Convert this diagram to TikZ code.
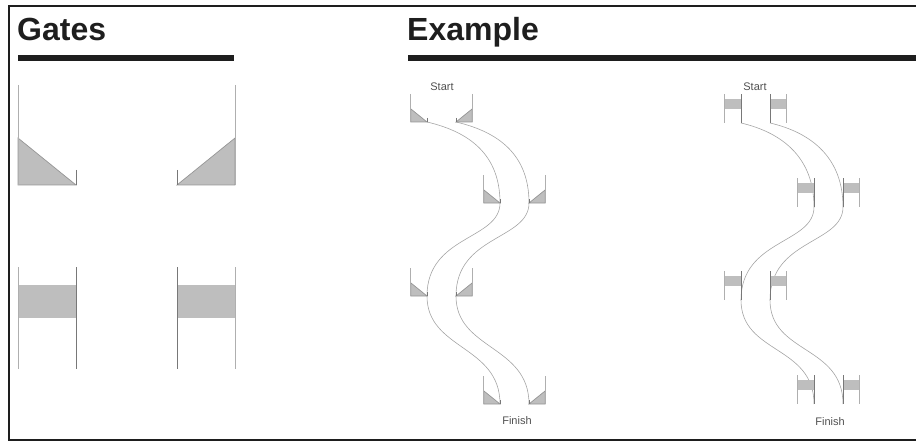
\documentclass[tikz,border=0pt]{standalone}
\usepackage{fontspec}
\setmainfont{Liberation Sans}
\usepackage{tikz}
\definecolor{white}{rgb}{1.0, 1.0, 1.0}
\definecolor{black}{rgb}{0.0, 0.0, 0.0}
\definecolor{ink}{RGB}{30,30,30}
\definecolor{gatefill}{RGB}{190,190,190}
\definecolor{gateedge}{RGB}{150,150,150}
\definecolor{lgrey}{RGB}{175,175,175}
\definecolor{dgrey}{RGB}{120,120,120}
\definecolor{trackgrey}{RGB}{165,165,165}
\definecolor{textgrey}{RGB}{80,80,80}
\pgfdeclarelayer{edgelayer}
\pgfdeclarelayer{nodelayer}
\pgfsetlayers{edgelayer,nodelayer,main}
\tikzstyle{title}=[anchor=base west,inner sep=0pt,text=ink,font=\bfseries\fontsize{32}{36}\selectfont]
\tikzstyle{label}=[inner sep=0pt,text=textgrey,font=\fontsize{11}{13}\selectfont]
\tikzstyle{rule}=[ink,line width=5.5pt]
\tikzstyle{frame}=[ink,line width=2.2pt]
\tikzstyle{gateshade}=[fill=gatefill,draw=gateedge,line width=0.7pt]
\tikzstyle{gateline}=[lgrey,line width=0.8pt]
\tikzstyle{gatedark}=[dgrey,line width=0.8pt]
\tikzstyle{track}=[trackgrey,line width=0.6pt]
% gate with a sloped flap: position, side (1 or -1), size
\newcommand{\trigate}[3]{%
  \begin{scope}[shift={(#1)},xscale=#2*#3,yscale=#3]
    \filldraw[style=gateshade] (-58,-47) -- (-58,0) -- (0,0) -- cycle;
    \draw[style=gateline] (-58,-100) -- (-58,0);
    \draw[style=gatedark] (0,-15) -- (0,0);
  \end{scope}}
% gate with a straight bar: position, side (1 or -1), size
\newcommand{\bargate}[3]{%
  \begin{scope}[shift={(#1)},xscale=#2*#3,yscale=#3]
    \fill[gatefill] (-58,-84) rectangle (0,-51);
    \draw[style=gateline] (-58,-102) -- (-58,0);
    \draw[style=gatedark] (0,-102) -- (0,0);
  \end{scope}}

\begin{document}
\begin{tikzpicture}[x=1pt,y=-1pt]
        \useasboundingbox (0,0) rectangle (916,441);

        \draw [style = frame] (916,6) -- (9,6) -- (9,440) -- (916,440);

        \node [style = title] (gatestitle) at (17,41) {Gates};
        \node [style = title] (exampletitle) at (407,41) {Example};
        \draw [style = rule] (18,58) -- (234,58);
        \draw [style = rule] (408,58) -- (916,58);

        % gates key
        \coordinate (gA) at (76,185);
        \coordinate (gB) at (177,185);
        \coordinate (gC) at (76,369);
        \coordinate (gD) at (177,369);

        % left example
        \coordinate (s1) at (427,122);
        \coordinate (a1) at (500,203);
        \coordinate (b1) at (427,296);
        \coordinate (f1) at (500,404);
        \coordinate (s2) at (456,122);
        \coordinate (a2) at (529,203);
        \coordinate (b2) at (456,296);
        \coordinate (f2) at (529,404);

        % right example
        \coordinate (t1) at (741,123);
        \coordinate (c1) at (814,207);
        \coordinate (d1) at (741,300);
        \coordinate (g1) at (814,404);
        \coordinate (t2) at (770,123);
        \coordinate (c2) at (843,207);
        \coordinate (d2) at (770,300);
        \coordinate (g2) at (843,404);

        \node [style = label] (start1) at (442,87) {Start};
        \node [style = label] (finish1) at (517,421) {Finish};
        \node [style = label] (start2) at (755,87) {Start};
        \node [style = label] (finish2) at (830,422) {Finish};

        \begin{pgfonlayer}{nodelayer}
            \trigate{gA}{1}{1}
            \trigate{gB}{-1}{1}
            \bargate{gC}{1}{1}
            \bargate{gD}{-1}{1}

            \trigate{s1}{1}{0.28}
            \trigate{s2}{-1}{0.28}
            \trigate{a1}{1}{0.28}
            \trigate{a2}{-1}{0.28}
            \trigate{b1}{1}{0.28}
            \trigate{b2}{-1}{0.28}
            \trigate{f1}{1}{0.28}
            \trigate{f2}{-1}{0.28}

            \bargate{t1}{1}{0.28}
            \bargate{t2}{-1}{0.28}
            \bargate{c1}{1}{0.28}
            \bargate{c2}{-1}{0.28}
            \bargate{d1}{1}{0.28}
            \bargate{d2}{-1}{0.28}
            \bargate{g1}{1}{0.28}
            \bargate{g2}{-1}{0.28}
        \end{pgfonlayer}

        \begin{pgfonlayer}{edgelayer}
            \draw [style = track] (s1) .. controls +(43,10) and +(0,-48) .. (a1)
                .. controls +(0,37) and +(0,-61) .. (b1)
                .. controls +(0,54) and +(0,-59) .. (f1);
            \draw [style = track] (s2) .. controls +(43,10) and +(0,-48) .. (a2)
                .. controls +(0,37) and +(0,-61) .. (b2)
                .. controls +(0,54) and +(0,-59) .. (f2);

            \draw [style = track] (t1) .. controls +(43,10) and +(0,-48) .. (c1)
                .. controls +(0,37) and +(0,-61) .. (d1)
                .. controls +(0,54) and +(0,-59) .. (g1);
            \draw [style = track] (t2) .. controls +(43,10) and +(0,-48) .. (c2)
                .. controls +(0,37) and +(0,-61) .. (d2)
                .. controls +(0,54) and +(0,-59) .. (g2);
        \end{pgfonlayer}
    \end{tikzpicture}
\end{document}
